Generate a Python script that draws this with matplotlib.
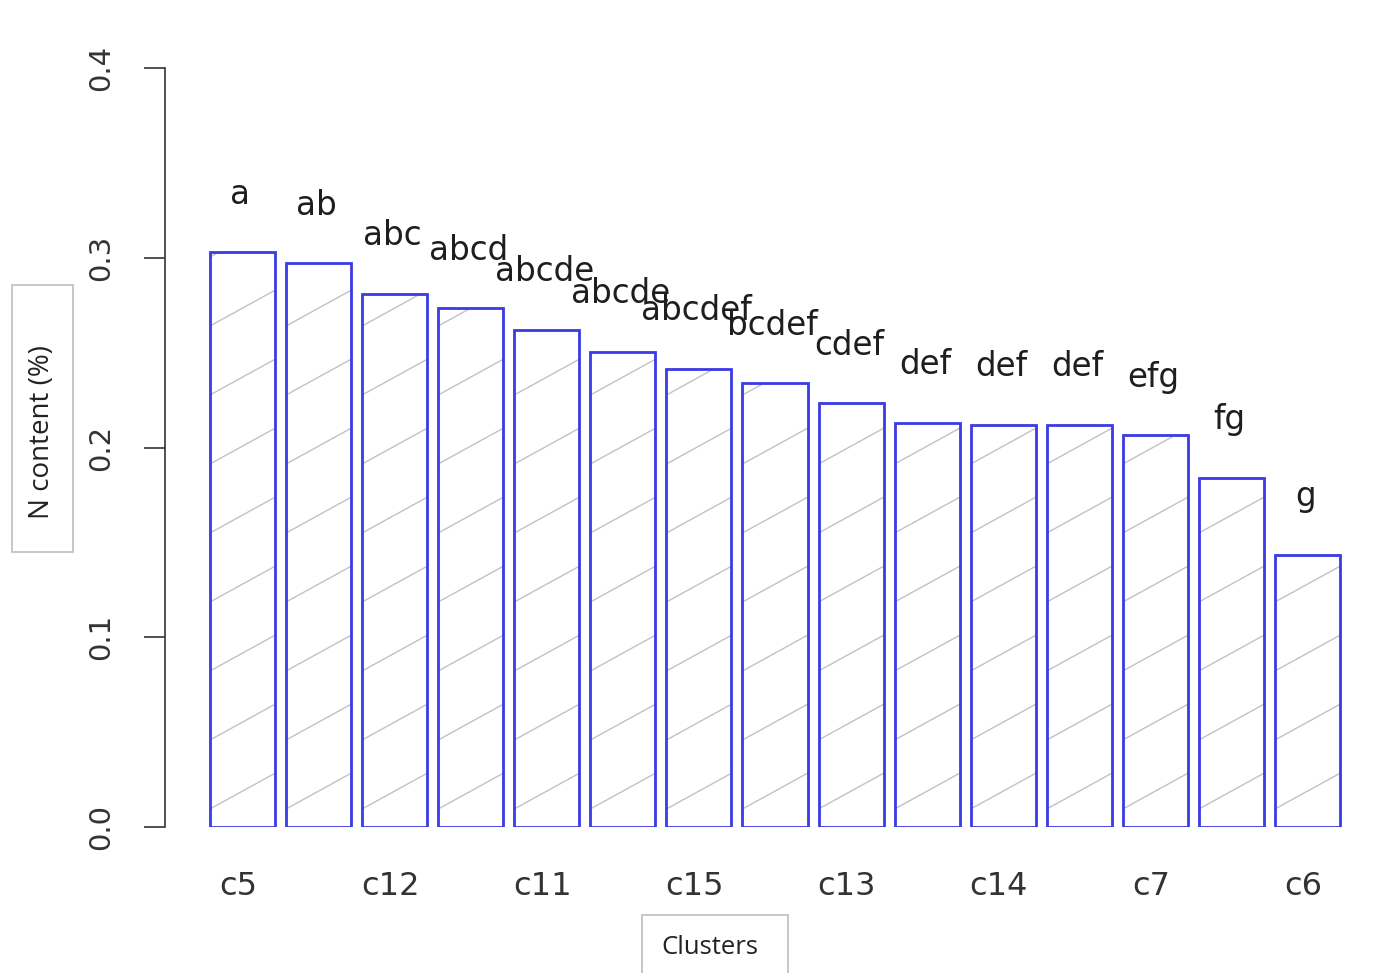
import numpy as np
import matplotlib
matplotlib.use('Agg')
import matplotlib.pyplot as plt
from matplotlib.collections import LineCollection
from matplotlib.patches import Rectangle

# values (N content, %)
n_content = [0.303, 0.297, 0.281, 0.2735, 0.262, 0.2505, 0.2415, 0.234,
             0.2235, 0.213, 0.212, 0.212, 0.2065, 0.184, 0.1435]
# significance letters above each bar
letters = ['a', 'ab', 'abc', 'abcd', 'abcde', 'abcde', 'abcdef', 'bcdef',
           'cdef', 'def', 'def', 'def', 'efg', 'fg', 'g']
# cluster names (R dropped every second label because of overlap)
clusters = ['c5', '', 'c12', '', 'c11', '', 'c15', '', 'c13', '', 'c14', '',
            'c7', '', 'c6']
yticks = [0.0, 0.1, 0.2, 0.3, 0.4]

W, H = 1399, 973
fig = plt.figure(figsize=(W / 100, H / 100), dpi=100)
ax = fig.add_axes([165 / W, (H - 827) / H, (1380 - 165) / W, (827 - 68) / H])

x = np.arange(len(n_content))
ax.set_xlim(-1.019, 14.953)
ax.set_ylim(0, 0.4)

bars = ax.bar(x, n_content, width=0.855, facecolor='none',
              edgecolor='#3a3ae6', linewidth=2.0, zorder=2)

# sparse R-style density hatching, drawn as lines clipped to each bar
fig.canvas.draw()
p0 = ax.transData.transform((0, 0))
px_x = ax.transData.transform((1, 0))[0] - p0[0]
px_y = ax.transData.transform((0, 1))[1] - p0[1]
slope = 0.55 * px_x / px_y          # data units of y per bar unit
step = 69.0 / px_y
off = 18.0 / px_y
for b in bars:
    x0 = b.get_x()
    x1 = x0 + b.get_width()
    h = b.get_height()
    segs = []
    k = -2
    while off + k * step < h:
        y0 = off + k * step
        segs.append([(x0, y0), (x1, y0 + slope * (x1 - x0))])
        k += 1
    lc = LineCollection(segs, colors='#c2c2c2', linewidths=1.0, zorder=1.5)
    ax.add_collection(lc)
    lc.set_clip_path(b.get_path(), b.get_transform())

for xi, v, lab in zip(x, n_content, letters):
    ax.text(xi - 0.03, v + 0.0255, lab, ha='center', va='baseline',
            fontsize=23.5, color='#1e1e1e', family='DejaVu Sans')

for s in ['top', 'right', 'bottom']:
    ax.spines[s].set_visible(False)
ax.spines['left'].set_color('#333333')
ax.spines['left'].set_linewidth(1.2)
ax.spines['left'].set_bounds(0, 0.4)

ax.set_yticks(yticks)
ax.set_yticklabels([f'{t:.1f}' for t in yticks], rotation=90, va='center',
                   fontsize=21, color='#333333')
ax.tick_params(axis='y', length=15, width=1.2, color='#333333', pad=21)

ax.set_xticks(x - 0.06)
ax.set_xticklabels(clusters, fontsize=23, color='#333333')
ax.tick_params(axis='x', length=0, pad=32)

# pasted axis titles in light grey boxes
fig.patches.append(Rectangle((12 / W, (H - 552) / H), 61 / W, 267 / H,
                             transform=fig.transFigure, facecolor='white',
                             edgecolor='#bdbdbd', linewidth=1.2))
fig.text(42 / W, (H - 432) / H, 'N content (%)', rotation=90, ha='center',
         va='center', fontsize=20, color='#222222', family='Open Sans')
fig.patches.append(Rectangle((642 / W, (H - 985) / H), 146 / W, 70 / H,
                             transform=fig.transFigure, facecolor='white',
                             edgecolor='#bdbdbd', linewidth=1.2))
fig.text(710 / W, (H - 948) / H, 'Clusters', ha='center', va='center',
         fontsize=18.5, color='#222222', family='Open Sans')

fig.savefig('out.png', dpi=100)
